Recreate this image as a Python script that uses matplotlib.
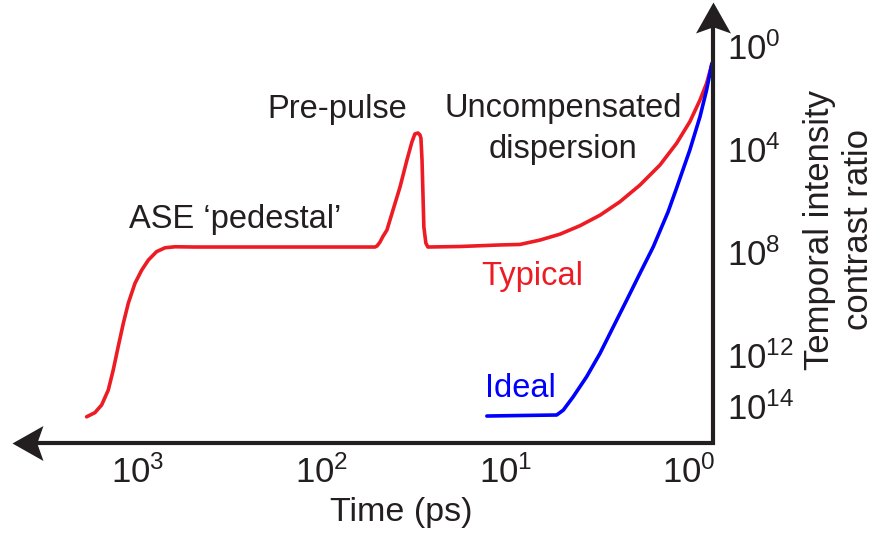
import numpy as np
import matplotlib
matplotlib.use('Agg')
import matplotlib.pyplot as plt
from matplotlib.path import Path
from matplotlib import font_manager

plt.rcParams['font.family'] = ['Liberation Sans', 'DejaVu Sans']

# tick numbers use a narrower face when it is available
try:
    font_manager.findfont(font_manager.FontProperties(family='Liberation Sans Narrow'),
                          fallback_to_default=False)
    tick_face = 'Liberation Sans Narrow'
except ValueError:
    tick_face = 'Liberation Sans'
plt.rcParams['mathtext.fontset'] = 'custom'
plt.rcParams['mathtext.rm'] = tick_face
plt.rcParams['mathtext.it'] = tick_face + ':italic'

# log10(time / ps) and log10(contrast) along each trace
typical_logt = [3.279, 3.234, 3.197, 3.161, 3.134, 3.107, 3.079, 3.052, 3.016, 2.979,
                2.943, 2.898, 2.852, 2.798, 2.689, 1.709, 1.698, 1.682, 1.666, 1.644,
                1.611, 1.573, 1.535, 1.508, 1.492, 1.475, 1.464, 1.459, 1.453, 1.448,
                1.443, 1.432, 1.421, 1.247, 1.029, 0.920, 0.811, 0.702, 0.593, 0.484,
                0.376, 0.267, 0.158, 0.067, -0.005, -0.060, -0.096, -0.124]
typical_logc = [14.42, 14.26, 13.96, 13.38, 12.60, 11.69, 10.78, 10.00, 9.23, 8.71,
                8.32, 7.99, 7.84, 7.80, 7.81, 7.81, 7.77, 7.62, 7.40, 7.15,
                6.37, 5.48, 4.42, 3.72, 3.41, 3.37, 3.45, 3.57, 4.42, 5.71,
                7.03, 7.66, 7.81, 7.79, 7.73, 7.71, 7.54, 7.31, 6.98, 6.57,
                6.05, 5.40, 4.62, 3.77, 2.93, 2.09, 1.44, 0.72]

ideal_logt = [1.100, 0.920, 0.720, 0.684, 0.630, 0.557, 0.484, 0.412, 0.339, 0.267,
              0.194, 0.158, 0.114, 0.067, 0.033, -0.005, -0.060, -0.096, -0.125]
ideal_logc = [14.39, 14.37, 14.35, 14.16, 13.64, 12.86, 11.95, 10.92, 9.88, 8.84,
              7.80, 7.19, 6.45, 5.51, 4.81, 4.03, 2.74, 1.70, 0.66]

x_ticks = [3, 2, 1, 0]
y_ticks = [0, 4, 8, 12, 14]

INK = '#231f20'
RED = '#ed1c24'
BLUE = '#0000ff'

fig = plt.figure(figsize=(8.74, 5.40), dpi=100)
ax = fig.add_axes([12 / 874, 97 / 540, 701 / 874, 441 / 540])
ax.set_xlim(3.685, -0.131)
ax.set_ylim(15.44, -1.729)

ax.plot(typical_logt, typical_logc, color=RED, lw=2.6,
        solid_joinstyle='round', solid_capstyle='round')
ax.plot(ideal_logt, ideal_logc, color=BLUE, lw=2.6,
        solid_joinstyle='round', solid_capstyle='round')

# axis lines with stealth arrowheads
for s in ax.spines.values():
    s.set_visible(False)
ax.plot([0.03, 1, 1], [0, 0, 0.97], transform=ax.transAxes, color=INK, lw=3,
        solid_joinstyle='miter', clip_on=False)
left_head = Path([(0, 0), (1, 0.565), (0.8, 0), (1, -0.565), (0, 0)],
                 [Path.MOVETO, Path.LINETO, Path.LINETO, Path.LINETO, Path.CLOSEPOLY])
up_head = Path([(0, 0), (0.565, -1), (0, -0.8), (-0.565, -1), (0, 0)],
               [Path.MOVETO, Path.LINETO, Path.LINETO, Path.LINETO, Path.CLOSEPOLY])
ax.plot([0], [0], transform=ax.transAxes, marker=left_head, ms=44.6, color=INK,
        mew=0, clip_on=False)
ax.plot([1], [1], transform=ax.transAxes, marker=up_head, ms=44.6, color=INK,
        mew=0, clip_on=False)

ax.set_xticks(x_ticks)
ax.set_xticklabels([f'$10^{{{t}}}$' for t in x_ticks])
ax.yaxis.tick_right()
ax.set_yticks(y_ticks)
ax.set_yticklabels([f'$10^{{{t}}}$' for t in y_ticks])
ax.tick_params(axis='x', length=0, pad=9, labelsize=25, labelcolor=INK)
ax.tick_params(axis='y', length=0, pad=10, labelsize=25, labelcolor=INK)

ax.set_xlabel('Time (ps)', fontsize=24.5, color=INK)
ax.xaxis.set_label_coords(0.555, -0.122)
ax.text(1.128, 0.483, 'Temporal intensity\ncontrast ratio', transform=ax.transAxes,
        rotation=90, ha='left', va='center', multialignment='center',
        fontsize=25, color=INK, linespacing=1.25)

ax.text(1.916, 2.79, 'Pre-pulse', ha='center', va='baseline', fontsize=23.5, color=INK)
ax.text(0.686, 2.75, 'Uncompensated', ha='center', va='baseline', fontsize=23.5, color=INK)
ax.text(0.686, 4.35, 'dispersion', ha='center', va='baseline', fontsize=23.5, color=INK)
ax.text(2.471, 7.07, 'ASE \u2018pedestal\u2019', ha='center', va='baseline',
        fontsize=23.5, color=INK)
ax.text(0.855, 9.29, 'Typical', ha='center', va='baseline', fontsize=23.5, color=RED)
ax.text(0.915, 13.65, 'Ideal', ha='center', va='baseline', fontsize=23.5, color=BLUE)

fig.savefig('out.png', dpi=100)
